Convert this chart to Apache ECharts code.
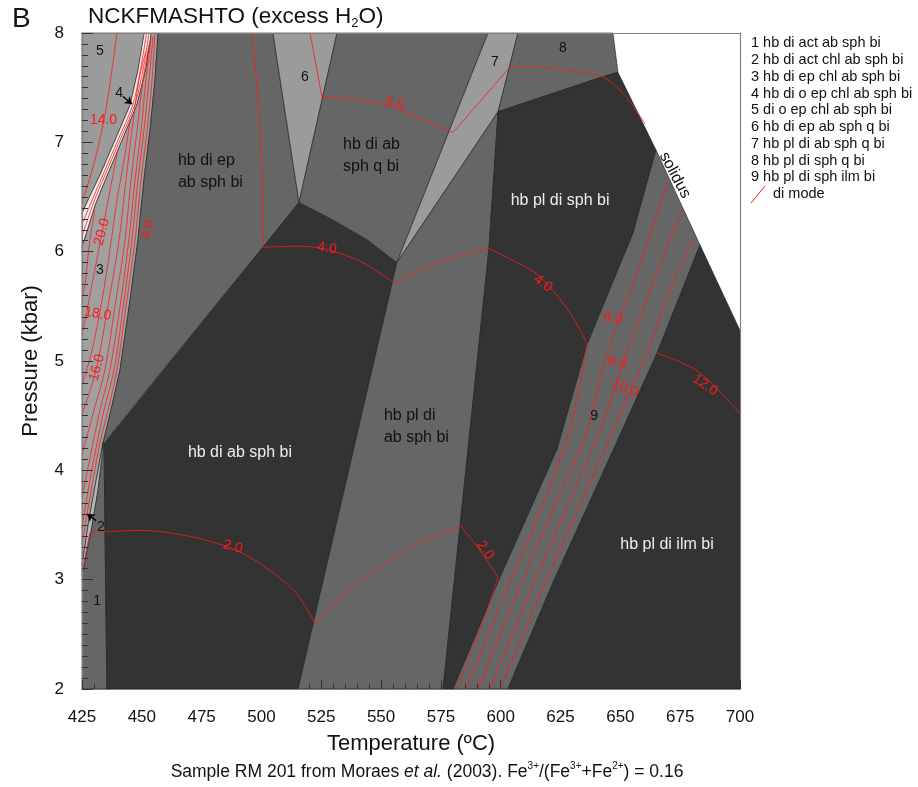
<!DOCTYPE html>
<html><head><meta charset="utf-8">
<script src="https://cdn.jsdelivr.net/npm/echarts@6/dist/echarts.min.js"></script>
<style>html,body{margin:0;padding:0;background:#fff}#c{width:918px;height:787px}</style>
</head><body><div id="c"></div>
<script>
// ---------- field polygons [T (°C), P (kbar)] ----------
const field5 = [[425,8],[451.3,8],[448.4,7.66],[445.1,7.34],[438.8,7.02],[432.5,6.70],[427.5,6.47],[425,6.35]];
const field4 = [[451.0,8],[454.0,8],[451.6,7.66],[447.9,7.34],[441.8,7.02],[435.6,6.70],[430.6,6.43],[425,6.04],[425,6.35],[427.5,6.47],[432.5,6.70],[438.8,7.02],[445.1,7.34],[448.4,7.66]];
const field3 = [[454.0,8],[451.6,7.66],[447.9,7.34],[441.8,7.02],[435.6,6.70],[430.6,6.43],[425,6.04],[425,3.13],[427.9,3.55],[430.9,3.91],[433.8,4.25],[437.1,4.55],[440.9,4.92],[445.1,5.56],[448.4,6.11],[450.9,6.66],[453.4,7.11],[455.5,7.57],[456.8,8]];
const field2 = [[433.8,4.25],[427.9,3.55],[425,3.13],[425,3.04],[428.8,3.44],[431.7,3.82]];
const field1 = [[434.2,4.25],[431.7,3.82],[428.8,3.44],[425,3.04],[425,2],[435.4,2]];
const fieldEp = [[456.8,8],[455.5,7.57],[453.4,7.11],[450.9,6.66],[448.4,6.11],[445.1,5.56],[440.9,4.92],[437.1,4.55],[433.8,4.25],[500.6,6.04],[515.7,6.45],[504.8,8]];
const fieldAbSph = [[434.2,4.25],[500.6,6.04],[515.7,6.45],[529.9,6.29],[544.1,6.11],[556.6,5.90],[515.3,2],[435.4,2]];
const field6 = [[504.8,8],[531.6,8],[515.7,6.45]];
const fieldQ = [[531.6,8],[594.7,8],[556.6,5.90],[544.1,6.11],[529.9,6.29],[515.7,6.45]];
const field7 = [[594.7,8],[607.2,8],[598.9,7.28],[556.6,5.90]];
const field8 = [[607.2,8],[646.9,8],[649.0,7.64],[642.7,7.60],[598.9,7.28]];
const fieldPlAb = [[556.6,5.90],[598.9,7.28],[595.1,6.03],[575.9,2],[515.3,2]];
const fieldPlSph = [[598.9,7.28],[642.7,7.60],[649.0,7.64],[664.9,6.93],[655.3,6.17],[636.1,5.15],[623.5,4.19],[599.7,3.02],[580.1,2],[575.9,2],[595.1,6.03]];
const field9 = [[580.1,2],[599.7,3.02],[623.5,4.19],[636.1,5.15],[655.3,6.17],[664.9,6.93],[683.3,6.06],[665.3,5.07],[645.7,4.12],[621.8,2.97],[603.0,2]];
const fieldIlm = [[603.0,2],[621.8,2.97],[645.7,4.12],[665.3,5.07],[683.3,6.06],[700,5.28],[700,2]];

// ---------- di mode contours ----------
const c14 = [[439.6,8],[437.5,7.66],[435.0,7.30],[430.9,6.88],[426.7,6.56],[425,6.47]];
const bandA = [[452.0,8],[449.4,7.66],[446.2,7.34],[440.0,7.02],[433.7,6.70],[428.8,6.45],[425,6.25]];
const bandB = [[453.0,8],[450.5,7.66],[447.0,7.34],[440.9,7.02],[434.6,6.70],[429.7,6.44],[425,6.14]];
const f3a = [[455.5,8],[454.3,7.57],[452.2,7.11],[449.7,6.66],[447.2,6.11],[443.8,5.56],[439.6,4.92],[435.9,4.55],[432.5,4.25],[429.6,3.91],[426.7,3.55],[425,3.32]];
const f3b = [[454.7,7.97],[453.0,7.57],[450.9,7.11],[448.4,6.66],[445.9,6.11],[442.6,5.56],[438.4,4.92],[434.2,4.55],[431.3,4.25],[428.3,3.91],[425,3.47]];
const f3c = [[453.8,7.94],[451.7,7.57],[449.7,7.11],[447.2,6.66],[444.6,6.11],[441.3,5.56],[436.7,4.92],[432.5,4.55],[429.6,4.25],[425,3.75]];
const f3d = [[453.0,7.89],[450.5,7.57],[448.0,7.11],[445.5,6.66],[443.0,6.11],[439.2,5.56],[434.6,4.92],[430.0,4.55],[425,4.14]];
const f3e = [[451.7,7.83],[448.8,7.57],[445.9,7.11],[443.4,6.66],[440.5,6.11],[436.3,5.56],[430.9,4.92],[425,4.51]];
const f3f = [[445.1,7.20],[442.6,6.84],[439.6,6.47],[436.7,6.02],[433.4,5.56],[429.2,5.10],[425,4.78]];
const f3g = [[440.0,6.93],[436.7,6.56],[433.4,6.18],[430.0,5.79],[426.7,5.42],[425,5.24]];
const f3h = [[430.4,6.38],[428.3,6.11],[426.3,5.71],[425,5.56]];
const c6a = [[520.3,8],[525.3,7.41]];
const c6b = [[525.3,7.41],[541.2,7.39],[555.0,7.32],[568.3,7.20],[580.1,7.09]];
const c6c = [[580.1,7.09],[603.9,7.69]];
const c6d = [[603.9,7.69],[620.6,7.68],[633.1,7.64],[642.7,7.60],[651.9,7.43],[660.3,7.17]];
const c4a = [[496.0,8],[498.6,7.39],[500.2,6.75],[500.6,6.04]];
const c4b = [[500.6,6.04],[516.1,6.05],[527.4,6.02],[542.4,5.90],[555.8,5.71]];
const c4c = [[555.8,5.71],[574.6,5.91],[595.1,6.03]];
const c4d = [[595.1,6.03],[605.1,5.92],[616.4,5.77],[628.9,5.44],[636.1,5.16]];
const band4 = [[636.1,5.16],[628.9,4.37],[616.8,3.64],[602.6,2.91],[585.5,2]];
const c2a = [[425,3.07],[428.3,3.43]];
const c2b = [[428.3,3.43],[435.4,3.44],[449.2,3.45],[471.4,3.39],[492.3,3.24],[513.2,2.91],[522.4,2.60]];
const c2c = [[522.4,2.60],[535.8,2.88],[549.5,3.12],[566.3,3.34],[583.4,3.49]];
const c2d = [[583.4,3.49],[591.3,3.27],[598.9,3.02]];
const band2 = [[598.9,3.02],[591.3,2.54],[581.3,2]];
const band6 = [[669.9,6.64],[657.4,5.83],[644.8,5.10],[636.1,4.37],[621.8,3.64],[607.6,2.91],[590.5,2]];
const band8 = [[675.8,6.38],[665.7,5.83],[653.2,5.10],[641.5,4.37],[627.3,3.64],[612.7,2.91],[595.5,2]];
const band10 = [[681.2,6.13],[674.1,5.83],[661.5,5.10],[646.9,4.37],[632.3,3.64],[617.3,2.91],[599.7,2]];
const c12 = [[665.3,5.07],[675.2,4.99],[683.3,4.89],[691.6,4.72],[700,4.52]];

// ---------- labels ----------
const modeLabelText = ['14.0','20.0','4.0','18.0','16.0','6.0','4.0','4.0','6.0','8.0','10.0','12.0','2.0','2.0'];
const modeLabelPos = [[434.0,7.20],[433.4,6.18],[452.6,6.20],[431.6,5.43],[431.3,4.94],[555.8,7.36],[527.4,6.03],[617.7,5.71],[646.9,5.39],[648.6,4.99],[652.0,4.75],[685.4,4.78],[488.1,3.30],[593.5,3.27]];
const modeLabelRot = [0,75,78,-10,75,-18,-8,-38,-12,-12,-22,-35,-15,-55];

const numText = ['5','4','3','2','1','6','7','8','9'];
const numPos = [[432.5,7.83],[440.5,7.45],[432.5,5.83],[432.9,3.48],[431.3,2.80],[518.2,7.60],[597.6,7.73],[626.0,7.86],[639.0,4.50]];

const fieldText = ['hb di ep\nab sph bi','hb di ab\nsph q bi','hb pl di sph bi','hb di ab sph bi','hb pl di\nab sph bi','hb pl di ilm bi','solidus'];
const fieldPos = [[465.1,6.73],[534.1,6.88],[624.8,6.47],[491.0,4.16],[551.2,4.40],[669.5,3.32],[672.8,6.70]];

const arrows = [[[442.1,7.42],[445.9,7.35]],[[430.9,3.54],[427.1,3.60]]];

const legendItems = ['1 hb di act ab sph bi','2 hb di act chl ab sph bi','3 hb di ep chl ab sph bi','4 hb di o ep chl ab sph bi','5 di o ep chl ab sph bi','6 hb di ep ab sph q bi','7 hb pl di ab sph q bi','8 hb pl di sph q bi','9 hb pl di sph ilm bi'];

// ---------- styles ----------
const FONT = '"Liberation Sans", Arial, Helvetica, sans-serif';
const DARK = '#333333', MED = '#666666', LIGHT = '#9b9b9b';
const RED = '#ff1a1a';

function polygon(pts, fill) {
  return { type:'custom', data: pts, silent:true, z:1, animation:false,
    renderItem: (params, api) => {
      if (params.dataIndex !== 0) return null;
      return { type:'polygon', shape:{ points: pts.map(p => api.coord(p)) },
        style:{ fill: fill, stroke:'#1a1a1a', lineWidth:0.6 } };
    } };
}
function contour(pts, smooth) {
  return { type:'line', data: pts, showSymbol:false, symbol:'none', silent:true, z:3, animation:false,
    smooth: smooth ? 0.3 : false, lineStyle:{ color: RED, width:0.8 } };
}
function texts(pos, txt, rot, styleFn) {
  return { type:'custom', data: pos, silent:true, z:12, animation:false,
    renderItem: (params, api) => {
      const i = params.dataIndex;
      const c = api.coord(pos[i]);
      return { type:'text', x:c[0], y:c[1], rotation:(rot ? rot[i] : 0) * Math.PI / 180,
        style: Object.assign({ text: txt[i], align:'center', verticalAlign:'middle' }, styleFn(i)) };
    } };
}

const series = [
  polygon(field5, LIGHT), polygon(field4, '#eeeeee'), polygon(field3, '#a0a0a0'),
  polygon(field2, '#b8b8b8'), polygon(field1, MED), polygon(fieldEp, MED),
  polygon(fieldAbSph, DARK), polygon(field6, LIGHT), polygon(fieldQ, MED),
  polygon(field7, LIGHT), polygon(field8, MED), polygon(fieldPlAb, MED),
  polygon(fieldPlSph, DARK), polygon(field9, MED), polygon(fieldIlm, DARK)
];
[c14, bandA, bandB, f3a, f3b, f3c, f3d, f3e, f3f, f3g, f3h, c6b, c6d, c4a, c4b, c4c, c4d, band4,
 c2b, c2c, c2d, band2, band6, band8, band10, c12].forEach(s => series.push(contour(s, true)));
[c6a, c6c, c2a].forEach(s => series.push(contour(s, false)));

series.push(texts(modeLabelPos, modeLabelText, modeLabelRot, i => ({ fill: RED, font: '14px ' + FONT })));
series.push(texts(numPos, numText, null, i => ({ fill: '#111', font: '14px ' + FONT })));
const fieldColors = ['#111','#111','#eee','#eee','#111','#eee','#111'];
const fieldAlign = ['left','left','center','center','left','center','center'];
const fieldRot = [0,0,0,0,0,0,-62];
series.push(texts(fieldPos, fieldText, fieldRot, i => ({ fill: fieldColors[i], align: fieldAlign[i],
  font: '16px ' + FONT, lineHeight: 22 })));
series.push({ type:'line', data:[], silent:true, z:12, animation:false,
  markLine:{ silent:true, symbol:['none','arrow'], symbolSize:7, label:{show:false},
    lineStyle:{ color:'#000', width:1.4, type:'solid' },
    data: arrows.map(a => [{ coord:a[0] }, { coord:a[1] }]) } });

const chart = echarts.init(document.getElementById('c'), null, { renderer:'canvas' });
chart.setOption({
  animation:false,
  backgroundColor:'#fff',
  grid:{ left:82, right:178, top:33, bottom:98, show:false },
  xAxis:[{
    type:'value', min:425, max:700, interval:25, z:10,
    name:'Temperature (ºC)', nameLocation:'middle', nameGap:44,
    nameTextStyle:{ fontSize:22, color:'#111', fontFamily:FONT },
    axisLine:{ show:true, onZero:false, lineStyle:{ color:'#808080', width:1.2 } },
    axisTick:{ show:true, inside:true, length:9, lineStyle:{ color:'#333' } },
    minorTick:{ show:true, splitNumber:5, length:5, lineStyle:{ color:'#333' } },
    axisLabel:{ fontSize:17, color:'#111', margin:20, fontFamily:FONT },
    splitLine:{ show:false }
  },{
    type:'value', min:425, max:700, position:'top', z:10,
    axisLine:{ show:true, onZero:false, lineStyle:{ color:'#808080', width:1.2 } },
    axisTick:{ show:false }, axisLabel:{ show:false }, splitLine:{ show:false }
  }],
  yAxis:[{
    type:'value', min:2, max:8, interval:1, z:10,
    name:'Pressure (kbar)', nameLocation:'middle', nameGap:40,
    nameTextStyle:{ fontSize:22, color:'#111', fontFamily:FONT },
    axisLine:{ show:true, onZero:false, lineStyle:{ color:'#808080', width:1.2 } },
    axisTick:{ show:true, inside:true, length:11, lineStyle:{ color:'#333' } },
    minorTick:{ show:true, splitNumber:10, length:6, lineStyle:{ color:'#333' } },
    axisLabel:{ fontSize:17, color:'#111', margin:18, fontFamily:FONT },
    splitLine:{ show:false }
  },{
    type:'value', min:2, max:8, position:'right', z:10,
    axisLine:{ show:true, onZero:false, lineStyle:{ color:'#808080', width:1.2 } },
    axisTick:{ show:false }, axisLabel:{ show:false }, splitLine:{ show:false }
  }],
  graphic:[
    { type:'text', left:12, top:5, style:{ text:'B', font:'28px ' + FONT, fill:'#111' } },
    { type:'text', left:88, top:5, style:{
      text:'{a|NCKFMASHTO (excess H}{s|2}{a|O)}',
      rich:{ a:{ fontSize:22.5, fontFamily:FONT, fill:'#111', lineHeight:26 },
             s:{ fontSize:13, fontFamily:FONT, fill:'#111', verticalAlign:'bottom', lineHeight:22 } } } },
    { type:'text', left:751, top:35, style:{ text: legendItems.join('\n'), font:'14.5px ' + FONT,
      fill:'#111', lineHeight:16.75 } },
    { type:'line', shape:{ x1:751, y1:203, x2:765, y2:186 }, style:{ stroke: RED, lineWidth:1 } },
    { type:'text', left:773, top:186, style:{ text:'di mode', font:'14.5px ' + FONT, fill:'#111' } },
    { type:'text', x:427, y:772, style:{
      text:'{a|Sample RM 201 from Moraes }{i|et al.}{a| (2003). Fe}{s|3+}{a|/(Fe}{s|3+}{a|+Fe}{s|2+}{a|) = 0.16}',
      align:'center', verticalAlign:'middle',
      rich:{ a:{ fontSize:17.5, fontFamily:FONT, fill:'#111', lineHeight:22 },
             i:{ fontSize:17.5, fontFamily:FONT, fontStyle:'italic', fill:'#111', lineHeight:22 },
             s:{ fontSize:10, fontFamily:FONT, fill:'#111', verticalAlign:'top', lineHeight:16 } } } }
  ],
  series: series
});
</script>
</body></html>
